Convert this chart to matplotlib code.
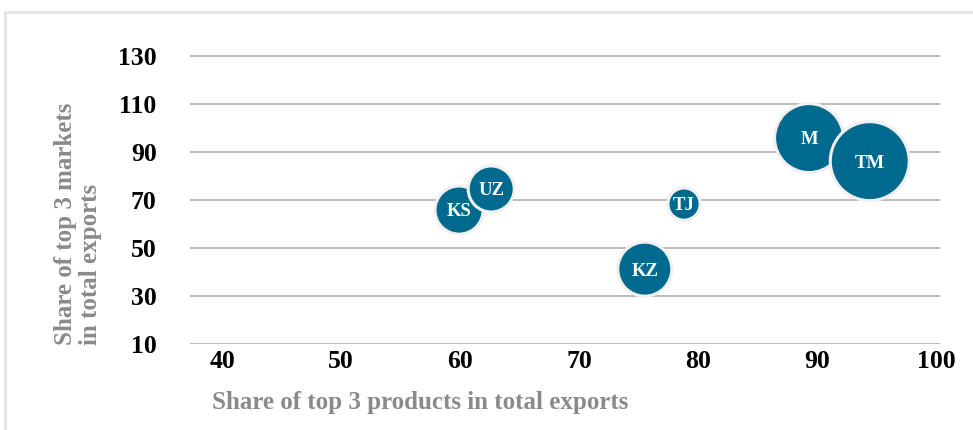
import matplotlib.pyplot as plt
from matplotlib.patches import Rectangle

# bubble data
labels = ["KS", "UZ", "TJ", "KZ", "M", "TM"]
prod_share = [59.9, 62.6, 78.8, 75.5, 89.3, 94.4]
market_share = [65.8, 74.6, 68.3, 41.2, 95.8, 86.2]
bubble_size = [5.8, 5.3, 2.6, 7.3, 11.9, 15.6]

x_ticks = [40, 50, 60, 70, 80, 90, 100]
y_ticks = [10, 30, 50, 70, 90, 110, 130]

plt.rcParams["font.family"] = ["Liberation Serif", "DejaVu Serif"]

fig = plt.figure(figsize=(9.73, 4.30), dpi=100)
ax = fig.add_axes([190 / 973, 0.2, 750 / 973, 300 / 430])

# light frame around the figure
fig.patches.append(Rectangle((5 / 973, -0.05), 1.0, 0.05 + (430 - 12) / 430,
                             transform=fig.transFigure, fill=False,
                             edgecolor="#e3e3e3", linewidth=2))

ax.scatter(prod_share, market_share, s=[v * 207 for v in bubble_size],
           color="#006a8e", edgecolors="#f0f0f0", linewidths=2.2, zorder=3)
for lab, x, y in zip(labels, prod_share, market_share):
    ax.text(x, y - 0.8, lab, color="white", fontsize=13.5, fontweight="bold",
            ha="center", va="center", zorder=4)

ax.set_xlim(37.3, 100.3)
ax.set_ylim(10, 135)
ax.set_xticks(x_ticks)
ax.set_yticks(y_ticks)
ax.tick_params(length=0, labelsize=18.5)
for t in ax.get_xticklabels() + ax.get_yticklabels():
    t.set_fontweight("bold")
ax.tick_params(axis="x", pad=4)
ax.tick_params(axis="y", pad=24)

for y in y_ticks:
    ax.axhline(y, color="#b5b5b5", linewidth=1.3, zorder=1)
for s in ax.spines.values():
    s.set_visible(False)

fig.text(212 / 973, 1 - 402 / 430, "Share of top 3 products in total exports",
         color="#8a8a8c", fontsize=18, fontweight="bold", ha="left", va="center")
fig.text(78 / 973, 1 - 345 / 430, "Share of top 3 markets\nin total exports",
         color="#8a8a8c", fontsize=18, fontweight="bold", rotation=90,
         ha="center", va="bottom", multialignment="left", linespacing=1.15)

fig.savefig("out.png", dpi=100)
